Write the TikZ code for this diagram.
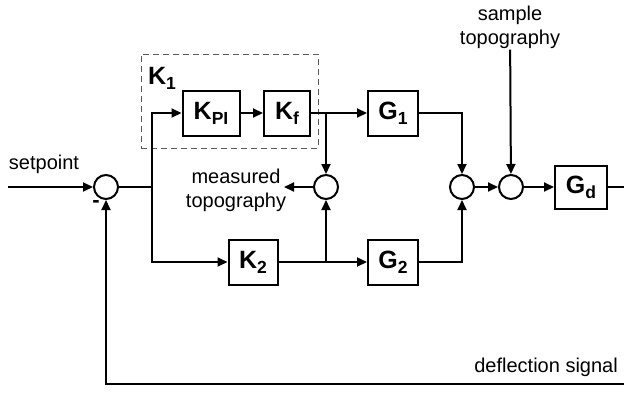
\documentclass[tikz,border=0pt]{standalone}
\usepackage{fontspec}
\setmainfont{Liberation Sans}
\usetikzlibrary{positioning, arrows.meta}
\newcommand{\lowsub}[1]{\raisebox{-5pt}{\fontsize{17.5}{17.5}\selectfont #1}}

\begin{document}
\begin{tikzpicture}[
        x=1pt, y=-1pt,
        block/.style={draw, line width=2pt, minimum height=45pt, inner sep=0pt, font=\fontsize{25}{25}\selectfont\bfseries},
        sum/.style={draw, circle, line width=2pt, minimum size=24pt, inner sep=0pt},
        txt/.style={font=\fontsize{20}{24}\selectfont, align=center, inner sep=1pt},
        arrow/.style={-{Triangle[length=10pt,width=9pt]}, line width=2pt},
        wire/.style={line width=2pt}
    ]
        \useasboundingbox (0,0) rectangle (624,392);

        % blocks and sums
        \node[sum] (s1) at (106,187) {};
        \node[block, minimum width=57pt] (kpi) at (211,113) {K\lowsub{PI}};
        \node[block, minimum width=46pt] (kf) at (287,113) {K\lowsub{f}};
        \node[block, minimum width=50pt] (g1) at (393,113) {G\lowsub{1}};
        \node[sum] (s2) at (326,187) {};
        \node[block, minimum width=49pt] (k2) at (253,262) {K\lowsub{2}};
        \node[block, minimum width=50pt] (g2) at (393,262) {G\lowsub{2}};
        \node[sum] (s3) at (462,187) {};
        \node[sum] (s4) at (511,187) {};
        \node[block, minimum width=52pt, minimum height=43pt] (gd) at (581,187) {G\lowsub{d}};

        % K1 group
        \node[draw=black!65, dash pattern=on 6pt off 4pt, line width=1pt, minimum width=177pt, minimum height=94pt] (k1box) at (229.5,101) {};
        \node[font=\fontsize{25}{25}\selectfont\bfseries, inner sep=0pt] (k1) at (162,78) {K\lowsub{1}};

        % labels
        \node[txt] (sptxt) at (44,164) {setpoint};
        \node[txt, font=\fontsize{22}{24}\selectfont\bfseries] (minus) at (96,204) {-};
        \node[txt] (meas) at (236,190) {measured\\topography};
        \node[txt] (sample) at (510,27) {sample\\topography};
        \node[txt, anchor=east] (defl) at (619,367) {deflection signal};

        \coordinate (sp) at (8,187);
        \coordinate (split) at (152,187);
        \coordinate (tap) at (326,113);
        \coordinate (tap2) at (326,262);
        \coordinate (mt) at (284,187);
        \coordinate (out) at (630,187);
        \coordinate (back) at (106,384);

        % connectors
        \draw[arrow] (sp) -- (s1);
        \draw[wire] (s1) -- (split);
        \draw[arrow] (split) |- (kpi);
        \draw[arrow] (split) |- (k2);
        \draw[arrow] (kpi) -- (kf);
        \draw[arrow] (kf) -- (g1);
        \draw[arrow] (tap) -- (s2);
        \draw[arrow] (k2) -- (g2);
        \draw[arrow] (tap2) -- (s2);
        \draw[arrow] (s2) -- (mt);
        \draw[arrow] (g1) -| (s3);
        \draw[arrow] (g2) -| (s3);
        \draw[arrow] (s3) -- (s4);
        \draw[arrow] (sample) -- (s4);
        \draw[arrow] (s4) -- (gd);
        \draw[arrow] (gd) -- (out) |- (back) -- (s1);
    \end{tikzpicture}
\end{document}
